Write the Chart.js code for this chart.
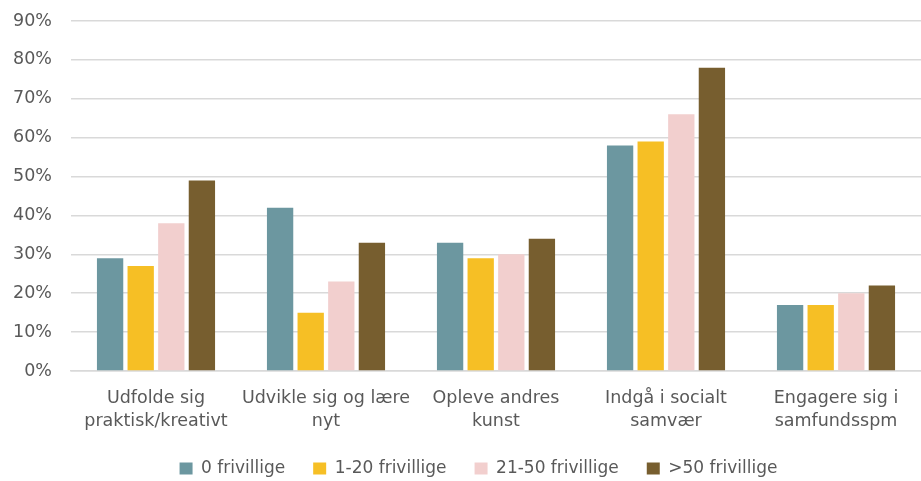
<!DOCTYPE html>
<html>
<head>
<meta charset="utf-8">
<script src="https://cdn.jsdelivr.net/npm/chart.js@4/dist/chart.umd.min.js"></script>
<style>
  html, body { margin: 0; padding: 0; background: #fff; }
  #wrap { width: 921px; height: 481px; }
</style>
</head>
<body>
<div id="wrap"><canvas id="chart" width="921" height="481"></canvas></div>
<script>
const categories = [
    ['Udfolde sig', 'praktisk/kreativt'],
    ['Udvikle sig og lære', 'nyt'],
    ['Opleve andres', 'kunst'],
    ['Indgå i socialt', 'samvær'],
    ['Engagere sig i', 'samfundsspm']
];
const seriesNames = ['0 frivillige', '1-20 frivillige', '21-50 frivillige', '>50 frivillige'];
const vals0 = [29, 42, 33, 58, 17];
const vals1_20 = [27, 15, 29, 59, 17];
const vals21_50 = [38, 23, 30, 66, 20];
const valsOver50 = [49, 33, 34, 78, 22];
const colors = ['#6C97A0', '#F6BF25', '#F2CFCE', '#775E2F'];

const fontFamily = '"DejaVu Sans", "Open Sans", sans-serif';
const textColor = '#595959';

// legend keeps wide gaps between items but a shorter box, nudged right
const legendFix = {
    id: 'legendFix',
    beforeInit(chart) {
        const lg = chart.legend;
        if (!lg) return;
        const fit = lg.fit.bind(lg);
        lg.fit = function () {
            fit();
            this.height = 49;
        };
    },
    afterLayout(chart) {
        const lg = chart.legend;
        if (!lg) return;
        lg.left += 18;
        lg.right += 18;
    }
};

const ctx = document.getElementById('chart').getContext('2d');
new Chart(ctx, {
    type: 'bar',
    data: {
        labels: categories,
        datasets: [vals0, vals1_20, vals21_50, valsOver50].map((d, i) => ({
            label: seriesNames[i],
            data: d,
            backgroundColor: colors[i],
            borderWidth: 0,
            categoryPercentage: 0.72,
            barPercentage: 0.86
        }))
    },
    plugins: [legendFix],
    options: {
        responsive: false,
        animation: false,
        layout: { padding: { left: 0, right: 0, top: 21, bottom: 0 } },
        plugins: {
            tooltip: { enabled: false },
            legend: {
                position: 'bottom',
                labels: {
                    color: textColor,
                    font: { family: fontFamily, size: 17 },
                    boxWidth: 13,
                    boxHeight: 12,
                    padding: 28
                }
            }
        },
        scales: {
            x: {
                grid: { display: false, drawTicks: false },
                border: { color: '#d9d9d9', width: 1.5 },
                ticks: {
                    color: textColor,
                    font: { family: fontFamily, size: 17.5, lineHeight: 1.32 },
                    maxRotation: 0,
                    autoSkip: false,
                    padding: 16
                },
                afterFit(scale) {
                    scale.height = 61;
                    scale.paddingLeft = 0;
                    scale.paddingRight = 0;
                }
            },
            y: {
                min: 0,
                max: 90,
                grid: { color: '#d9d9d9', lineWidth: 1.5, drawTicks: false },
                border: { display: false },
                ticks: {
                    stepSize: 10,
                    color: textColor,
                    font: { family: fontFamily, size: 17.5 },
                    padding: 19,
                    callback: v => v + '%'
                },
                afterFit(scale) {
                    scale.width = 71;
                    scale.paddingTop = 0;
                    scale.paddingBottom = 0;
                }
            }
        }
    }
});
</script>
</body>
</html>
